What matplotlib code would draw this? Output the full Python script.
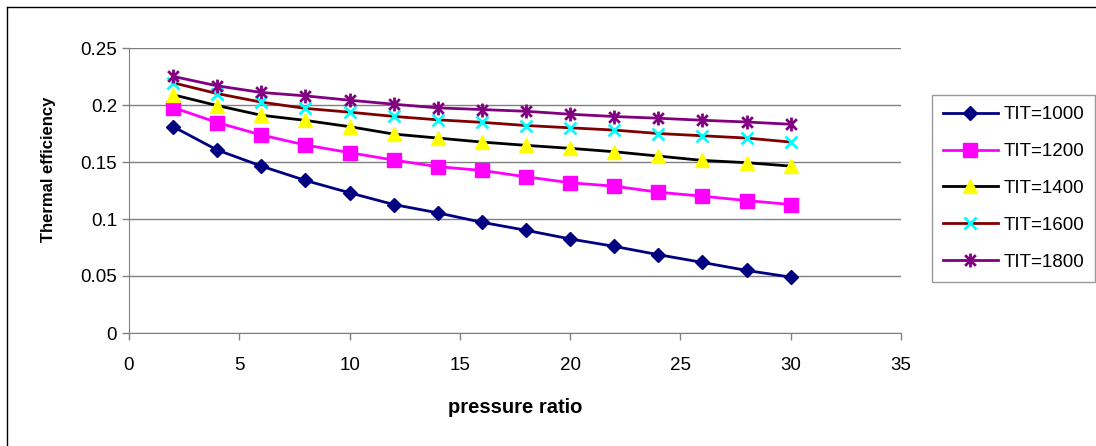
import matplotlib
matplotlib.use("Agg")
import matplotlib.pyplot as plt
from matplotlib.path import Path
from matplotlib.lines import Line2D

plt.rcParams['font.family'] = ['Liberation Sans', 'DejaVu Sans']

# data
pressureRatio = [2, 4, 6, 8, 10, 12, 14, 16, 18, 20, 22, 24, 26, 28, 30]
eff1000 = [0.181, 0.1605, 0.1464, 0.1338, 0.123, 0.1127, 0.1054, 0.0971,
           0.0901, 0.0825, 0.076, 0.0687, 0.0619, 0.0549, 0.049]
eff1200 = [0.1978, 0.1846, 0.1737, 0.1649, 0.1582, 0.1517, 0.1459, 0.1426,
           0.137, 0.1318, 0.1288, 0.1235, 0.120, 0.1162, 0.1127]
eff1400 = [0.209, 0.1995, 0.191, 0.1865, 0.181, 0.1745, 0.171, 0.1675,
           0.1646, 0.162, 0.159, 0.1552, 0.1514, 0.1494, 0.1464]
eff1600 = [0.2195, 0.210, 0.2025, 0.197, 0.1937, 0.190, 0.187, 0.1848,
           0.182, 0.180, 0.178, 0.175, 0.173, 0.171, 0.1675]
eff1800 = [0.2251, 0.2168, 0.211, 0.208, 0.2042, 0.2007, 0.1975, 0.196,
           0.1945, 0.1919, 0.1899, 0.1884, 0.1866, 0.1851, 0.1831]
seriesLabels = ['TIT=1000', 'TIT=1200', 'TIT=1400', 'TIT=1600', 'TIT=1800']
xTicks = [0, 5, 10, 15, 20, 25, 30, 35]
yTicks = [0, 0.05, 0.1, 0.15, 0.2, 0.25]
yTickLabels = ['0', '0.05', '0.1', '0.15', '0.2', '0.25']

# excel style asterisk: x plus vertical bar
asterisk = Path([(-1, -1), (1, 1), (-1, 1), (1, -1), (0, -1.3), (0, 1.3)],
                [Path.MOVETO, Path.LINETO, Path.MOVETO, Path.LINETO, Path.MOVETO, Path.LINETO])

styles = [
    dict(color='#000080', marker='D', ms=7.5, mfc='#000080', mec='#000080'),
    dict(color='#FF00FF', marker='s', ms=9.5, mfc='#FF00FF', mec='#FF00FF'),
    dict(color='#000000', marker='^', ms=10, mfc='#FFFF00', mec='#FFFF00'),
    dict(color='#800000', marker='x', ms=9, mfc='#00FFFF', mec='#00FFFF', mew=2),
    dict(color='#800080', marker=asterisk, ms=10, mfc='#800080', mec='#800080', mew=2),
]
allSeries = [eff1000, eff1200, eff1400, eff1600, eff1800]

W, H = 1096, 446
fig = plt.figure(figsize=(W / 100, H / 100), dpi=100)
ax = fig.add_axes([129 / W, 1 - 333 / H, (901 - 129) / W, (333 - 48) / H])

for vals, lab, st in zip(allSeries, seriesLabels, styles):
    ax.plot(pressureRatio, vals, lw=2, label=lab, zorder=3, **st)

ax.set_xlim(0, 35)
ax.set_ylim(0, 0.25)
ax.set_xticks(xTicks)
ax.set_yticks(yTicks)
ax.set_yticklabels(yTickLabels)
ax.yaxis.grid(True, color='#808080', lw=1)
ax.set_axisbelow(True)
for s in ['top', 'right']:
    ax.spines[s].set_visible(False)
for s in ['left', 'bottom']:
    ax.spines[s].set_color('#808080')
ax.tick_params(axis='both', colors='#808080', labelcolor='black', labelsize=13.5, length=5, width=1)
ax.tick_params(axis='x', pad=12)

ax.set_xlabel('pressure ratio', fontsize=14.5, fontweight='bold')
ax.xaxis.set_label_coords(0.5, -(398 - 333) / 285, transform=ax.transAxes)
ax.set_ylabel('Thermal efficiency', fontsize=12, fontweight='bold')
ax.yaxis.set_label_coords((56 - 129) / 772, (333 - 169) / 285)

leg = ax.legend(loc='upper left', bbox_to_anchor=(932 / W, 1 - 95 / H),
                bbox_transform=fig.transFigure, borderaxespad=0, fontsize=13.5,
                frameon=True, fancybox=False, edgecolor='#808080',
                handlelength=2.9, labelspacing=1.05, handletextpad=0.3,
                borderpad=0.6)
leg.get_frame().set_linewidth(1)

# chart area border (only top and left visible in the crop)
fig.add_artist(Line2D([7 / W, 1], [1 - 7 / H, 1 - 7 / H], color='black', lw=1, transform=fig.transFigure))
fig.add_artist(Line2D([7 / W, 7 / W], [0, 1 - 7 / H], color='black', lw=1, transform=fig.transFigure))

fig.savefig('out.png', dpi=100)
